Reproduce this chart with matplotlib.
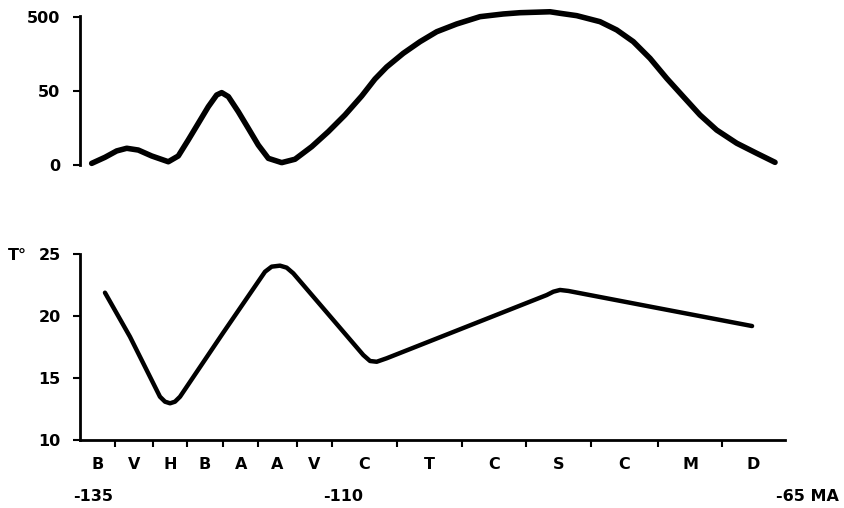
import matplotlib
matplotlib.use('Agg')
import matplotlib.pyplot as plt

# ---------------- data ----------------
# upper curve (age in Ma, value on the 0 / 50 / 500 scale)
top_age = [-133.84, -132.52, -131.36, -130.36, -129.21, -127.88, -126.23,
           -125.24, -124.25, -123.25, -122.26, -121.43, -120.93, -120.27,
           -119.28, -118.29, -117.30, -116.30, -114.97, -113.65, -111.99,
           -110.35, -108.69, -107.03, -105.71, -104.55, -102.90, -101.24,
           -99.58, -97.60, -95.28, -92.97, -91.31, -88.33, -87.34, -85.68,
           -83.37, -81.71, -80.06, -78.40, -76.74, -75.10, -73.44, -71.78,
           -69.79, -67.81, -65.99]
top_val = [1.1, 5.2, 9.5, 11.3, 10.1, 6.1, 2.2,
           6.1, 16.9, 28.2, 39.4, 47.3, 48.9, 46.2,
           36.0, 24.8, 13.5, 4.5, 1.6, 3.9, 12.4,
           22.5, 33.8, 46.6, 72.6, 105.5, 161.5, 231.7,
           316, 402, 505, 549, 571, 588, 561, 521,
           432, 334, 232, 138, 74, 46.2, 33.8, 23.6,
           14.7, 7.9, 1.8]
top_ticks = [0, 50, 500]

# temperature curve
temp_age = [-132.52, -130.04, -127.06, -126.56, -126.06, -125.57, -125.07,
            -120.80, -116.63, -115.97, -115.14, -114.48, -113.82, -106.87,
            -106.20, -105.54, -104.55, -88.66, -88.00, -87.34, -86.51,
            -77.70, -68.27]
temp_val = [21.88, 18.33, 13.49, 13.09, 12.96, 13.09, 13.49,
            18.63, 23.57, 23.98, 24.06, 23.90, 23.44, 16.85,
            16.37, 16.31, 16.59, 21.69, 21.96, 22.10, 22.02,
            20.65, 19.19]
temp_ticks = [10, 15, 20, 25]

# stages
stage_bounds = [-135, -131.5, -127.75, -124.4, -120.8, -117.3, -113.5, -110,
                -103.5, -97.1, -90.7, -84.3, -77.6, -71.25, -65]
stage_labels = ['B', 'V', 'H', 'B', 'A', 'A', 'V', 'C', 'T', 'C', 'S', 'C', 'M', 'D']
age_labels = ['-135', '-110', '-65 MA']
age_marks = [-135, -110, -65]

# ---------------- layout ----------------
W, H = 845, 508
fig = plt.figure(figsize=(W / 100, H / 100), dpi=100)


def rect(l, t, r, b):
    return [l / W, 1 - b / H, (r - l) / W, (b - t) / H]


FONT = dict(family='DejaVu Sans', weight='bold', size=11.5)

# ---- top panel ----
ax1 = fig.add_axes(rect(80, 9.6, 785, 165))
ax1.set_yscale('symlog', linthresh=50, linscale=0.9)
ax1.set_xlim(stage_bounds[0], stage_bounds[-1])
ax1.set_ylim(0, 629)
ax1.plot(top_age, top_val, color='black', lw=4.0, solid_capstyle='round',
         solid_joinstyle='round', clip_on=False)
ax1.set_yticks(top_ticks)
ax1.set_yticklabels([str(v) for v in top_ticks], fontdict=FONT)
ax1.yaxis.set_minor_locator(matplotlib.ticker.NullLocator())
ax1.set_xticks([])
for s in ('top', 'right', 'bottom'):
    ax1.spines[s].set_visible(False)
ax1.spines['left'].set_linewidth(2)
ax1.spines['left'].set_bounds(0, 512)
ax1.tick_params(axis='y', direction='out', length=5, width=1.5, pad=9)

# ---- bottom panel ----
ax2 = fig.add_axes(rect(80, 254, 785, 440))
ax2.set_xlim(stage_bounds[0], stage_bounds[-1])
ax2.set_ylim(temp_ticks[0], temp_ticks[-1])
ax2.plot(temp_age, temp_val, color='black', lw=3.2, solid_capstyle='round',
         solid_joinstyle='round')
ax2.set_yticks(temp_ticks)
ax2.set_yticklabels([str(v) for v in temp_ticks], fontdict=FONT)
ax2.set_xticks(stage_bounds[1:-1])
ax2.set_xticklabels([])
for s in ('top', 'right'):
    ax2.spines[s].set_visible(False)
ax2.spines['left'].set_linewidth(2)
ax2.spines['bottom'].set_linewidth(2)
ax2.tick_params(axis='y', direction='out', length=5, width=1.5, pad=9)
ax2.tick_params(axis='x', direction='out', length=5, width=1.5)

xt = ax2.get_xaxis_transform()
for i, lab in enumerate(stage_labels):
    mid = (stage_bounds[i] + stage_bounds[i + 1]) / 2
    ax2.text(mid, -0.134, lab, transform=xt, ha='center', va='center', **FONT)

offsets = [13, 11, 22]
for a, lab, off in zip(age_marks, age_labels, offsets):
    ax2.annotate(lab, xy=(a, -0.306), xycoords=xt, xytext=(off, 0),
                 textcoords='offset pixels', ha='center', va='center',
                 annotation_clip=False, **FONT)

fig.text(8 / W, 1 - 256 / H, 'T°', ha='left', va='center', **FONT)

fig.savefig('out.png', dpi=100, facecolor='white')
